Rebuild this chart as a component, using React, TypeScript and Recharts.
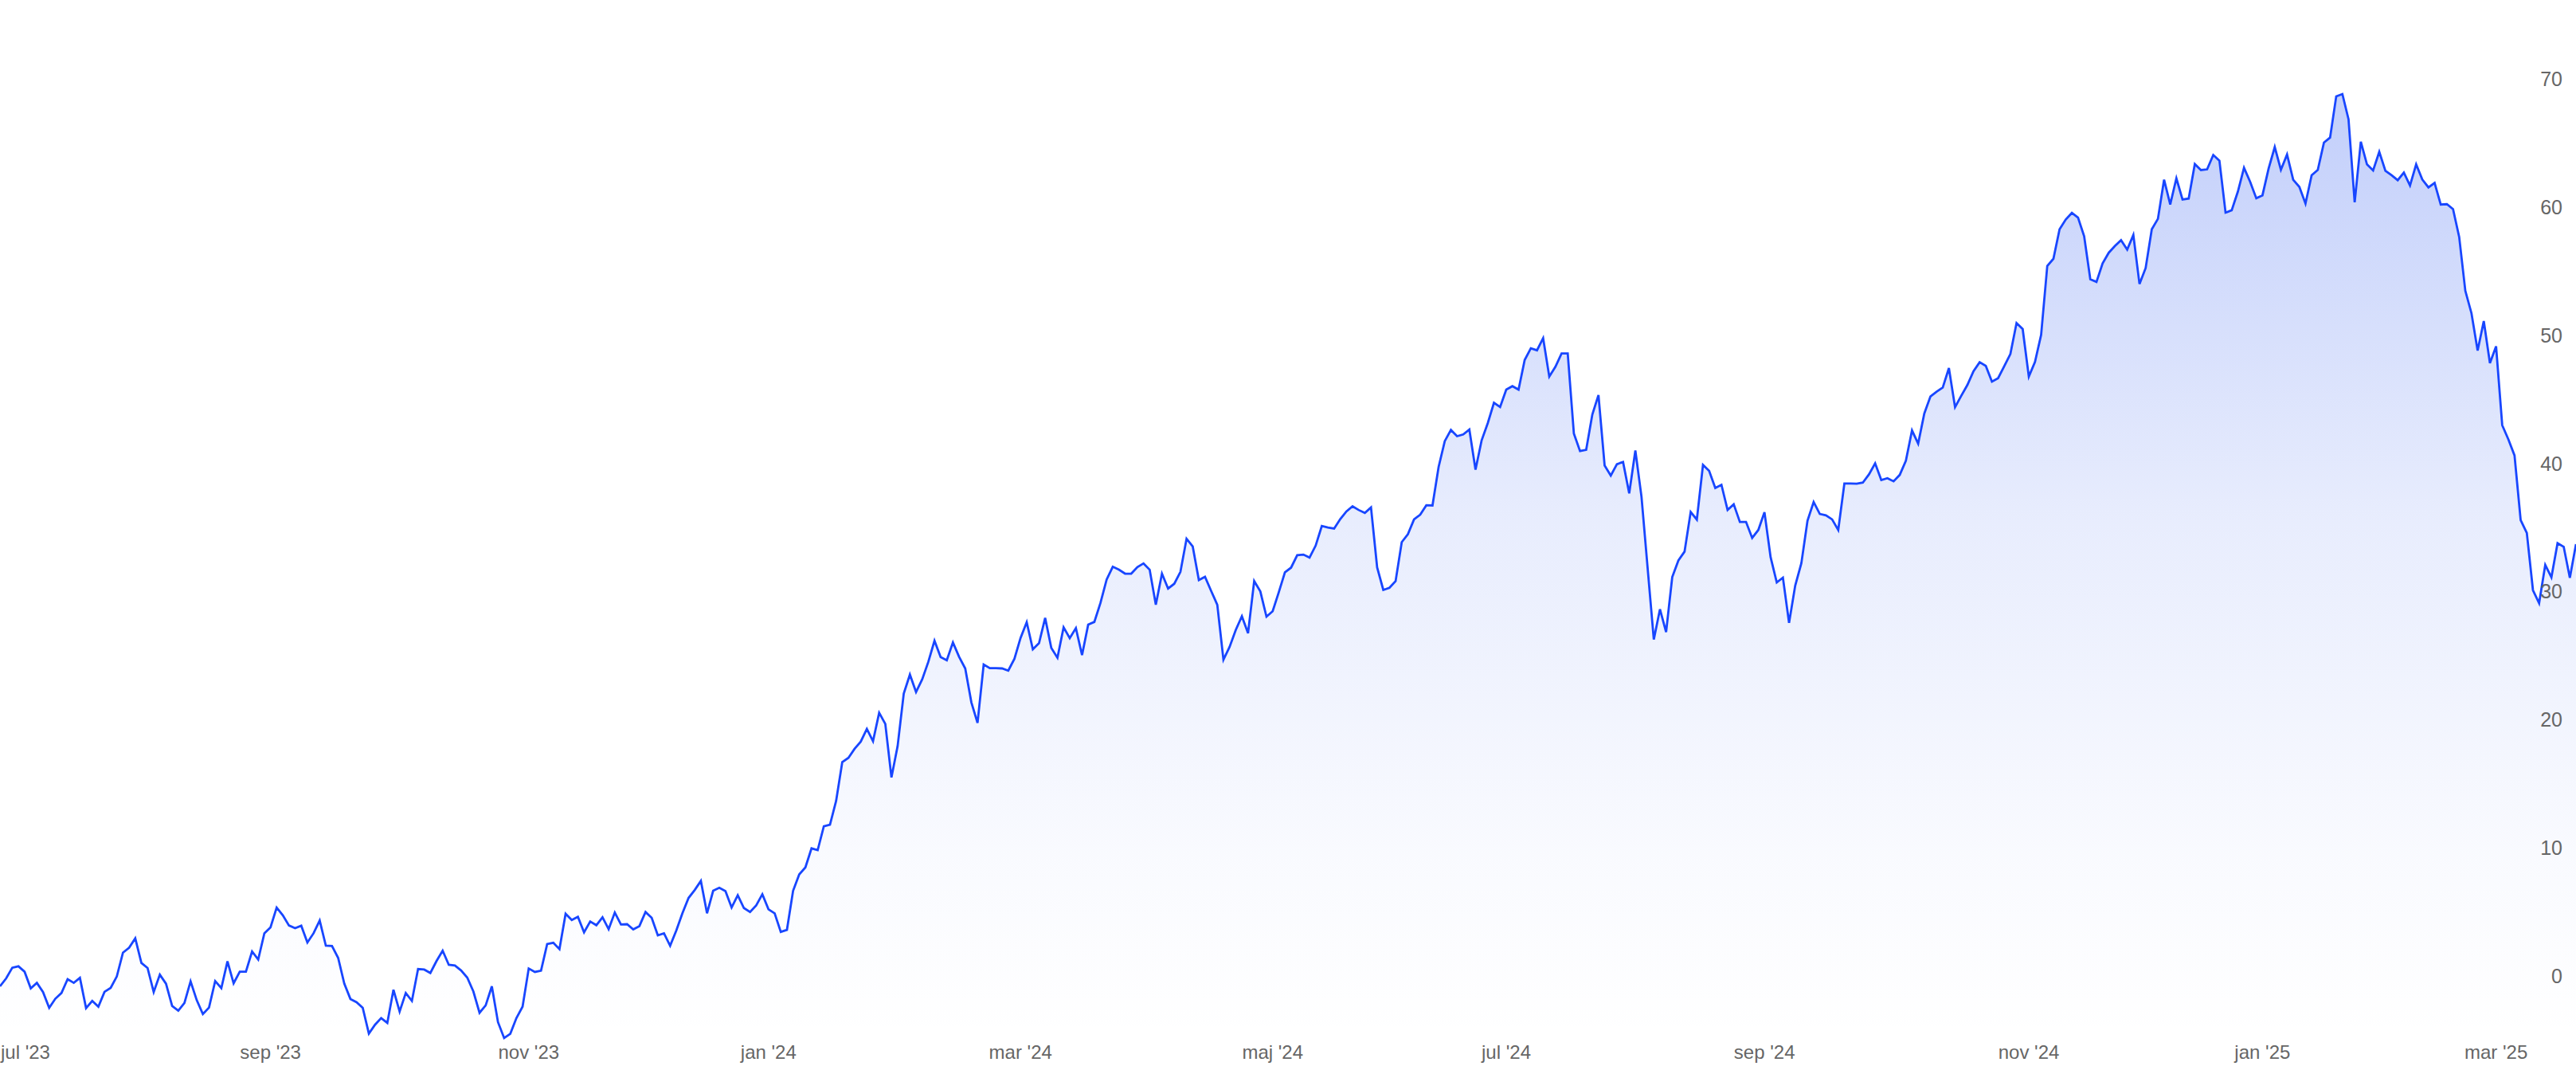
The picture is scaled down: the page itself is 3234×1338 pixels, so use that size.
import React from "react";
import { AreaChart, Area, XAxis, YAxis } from "recharts";

// daily return in % (one point per trading day)
const returns: number[] = [
  -0.83, -0.21, 0.62, 0.73, 0.31, -0.99, -0.56, -1.28, -2.51, -1.8,
  -1.35, -0.27, -0.56, -0.17, -2.53, -1.97, -2.42, -1.26, -0.95, -0.06,
  1.8, 2.18, 2.92, 0.99, 0.6, -1.28, 0.08, -0.62, -2.36, -2.73,
  -2.13, -0.44, -1.91, -3.0, -2.49, -0.42, -0.97, 1.12, -0.6, 0.31,
  0.31, 1.89, 1.26, 3.31, 3.77, 5.32, 4.72, 3.92, 3.71, 3.9,
  2.59, 3.31, 4.31, 2.34, 2.32, 1.39, -0.62, -1.82, -2.07, -2.51,
  -4.52, -3.83, -3.31, -3.69, -1.1, -2.8, -1.35, -1.97, 0.52, 0.48,
  0.21, 1.14, 1.95, 0.85, 0.79, 0.41, -0.15, -1.24, -2.9, -2.32,
  -0.83, -3.63, -4.87, -4.54, -3.31, -2.42, 0.56, 0.29, 0.39, 2.47,
  2.57, 2.07, 4.83, 4.35, 4.6, 3.38, 4.23, 3.94, 4.56, 3.63,
  4.93, 4.0, 4.02, 3.61,
  3.87, 4.97, 4.52, 3.15, 3.31, 2.34, 3.52, 4.87, 6.07, 6.69,
  7.4, 4.87, 6.63, 6.86, 6.6, 5.32, 6.28, 5.28, 4.97, 5.49,
  6.36, 5.18, 4.87, 3.42, 3.58, 6.63, 7.91, 8.45, 9.94, 9.8,
  11.66, 11.79, 13.65, 16.68, 17.01, 17.71, 18.27, 19.27, 18.31, 20.53,
  19.66, 15.48, 17.92, 22.02, 23.51, 22.15, 23.14, 24.51, 26.15, 24.88,
  24.63, 26.02, 24.9, 23.99, 21.34, 19.74, 24.3, 24.01, 24.01, 23.99,
  23.82, 24.74, 26.37, 27.6, 25.48,
  25.96, 27.93, 25.59, 24.82, 27.2, 26.35, 27.14, 25.03, 27.41, 27.62,
  29.11, 30.93, 31.93, 31.7, 31.39, 31.39, 31.9, 32.19, 31.7, 28.96,
  31.39, 30.23, 30.6, 31.53, 34.12, 33.52, 30.89, 31.14, 30.04, 28.96,
  24.67, 25.67, 26.99, 28.07, 26.74, 30.81, 30.0, 28.03, 28.45, 29.94,
  31.49, 31.86, 32.83, 32.88, 32.65, 33.58, 35.11, 34.99, 34.91, 35.65,
  36.25, 36.65, 36.36, 36.13, 36.56, 31.88, 30.12, 30.29, 30.81, 33.85,
  34.47, 35.63, 35.99, 36.73, 36.71, 39.73,
  41.74, 42.61, 42.12, 42.26, 42.64, 39.51, 41.81, 43.15, 44.73, 44.4,
  45.76, 46.03, 45.76, 48.08, 48.99, 48.83, 49.78, 46.78, 47.55, 48.58,
  48.58, 42.32, 40.96, 41.06, 43.82, 45.33, 39.84, 39.05, 39.94, 40.11,
  37.66, 41.0, 37.39, 31.8, 26.25, 28.61, 26.83, 31.12, 32.42, 33.11,
  36.21, 35.61, 39.88, 39.42, 38.08, 38.33, 36.36, 36.81, 35.43, 35.43,
  34.18, 34.8, 36.19, 32.67, 30.7, 31.08, 27.55, 30.45, 32.21, 35.53,
  36.98, 36.05, 35.94, 35.63, 34.8, 38.43,
  38.43, 38.41, 38.5, 39.14, 40.0, 38.7, 38.84, 38.6, 39.1, 40.21,
  42.57, 41.54, 43.9, 45.23, 45.6, 45.93, 47.44, 44.39, 45.27, 46.12,
  47.19, 47.9, 47.61, 46.38, 46.65, 47.59, 48.54, 50.96, 50.49, 46.78,
  47.92, 50.03,
  55.42, 55.98, 58.28, 59.04, 59.56, 59.19, 57.74, 54.38, 54.17, 55.62,
  56.45, 56.97, 57.43, 56.7, 57.84, 54.01, 55.25, 58.28, 59.1, 62.15,
  60.22, 62.26, 60.6, 60.68, 63.37, 62.9, 62.96, 64.08, 63.64, 59.58,
  59.77, 61.22, 63.08, 61.98, 60.7, 60.93, 63.02, 64.7, 62.92, 64.12,
  62.15, 61.59, 60.29, 62.5, 62.92, 65.05, 65.44, 68.66, 68.84, 66.87,
  60.39, 65.11, 63.35, 62.87, 64.33, 62.85, 62.5, 62.11, 62.71, 61.7,
  63.35, 62.17, 61.55, 61.9,
  60.21, 60.24, 59.85, 57.68, 53.47, 51.72, 48.81, 51.11, 47.83, 49.14,
  42.98, 41.87, 40.62, 35.57, 34.57,
  30.1, 29.09, 32.07, 31.11, 33.77, 33.49, 31.06, 33.7,
];

// index of the trading day under each month label
const monthTickIndex = [0, 44, 86, 125, 166, 207, 245, 287, 330, 368, 406];
const monthTickLabels = [
  "jul '23", "sep '23", "nov '23", "jan '24", "mar '24", "maj '24",
  "jul '24", "sep '24", "nov '24", "jan '25", "mar '25",
];
const yTicks = [0, 10, 20, 30, 40, 50, 60, 70];

const data = returns.map((v, i) => ({ i, v }));

const W = 3234;
const H = 1338;
const FONT = "'Liberation Sans', Arial, sans-serif";
const LABEL = "#666";

const XTick = (props: any) => {
  const { x, payload } = props;
  const idx = monthTickIndex.indexOf(payload.value);
  const first = idx === 0;
  return (
    <text
      x={first ? 1 : x}
      y={1320}
      textAnchor={first ? "start" : "middle"}
      dominantBaseline="central"
      fill={LABEL}
      fontSize={24}
      fontFamily={FONT}
    >
      {monthTickLabels[idx] ?? ""}
    </text>
  );
};

const YTick = (props: any) => (
  <text
    x={W - 17}
    y={props.y}
    textAnchor="end"
    dominantBaseline="central"
    fill={LABEL}
    fontSize={25}
    fontFamily={FONT}
  >
    {props.payload.value}
  </text>
);

export default function App() {
  return (
    <div style={{ position: "absolute", left: 0, top: 0, width: W, height: H, background: "#fff" }}>
      <AreaChart width={W} height={H} data={data} margin={{ top: 19, right: 0, bottom: 0, left: 0 }}>
        <defs>
          <linearGradient id="fillGrad" x1="0" y1="0" x2="0" y2="1">
            <stop offset="0%" stopColor="#1d4cee" stopOpacity={0.45} />
            <stop offset="45%" stopColor="#1d4cee" stopOpacity={0.17} />
            <stop offset="80%" stopColor="#1d4cee" stopOpacity={0.045} />
            <stop offset="100%" stopColor="#1d4cee" stopOpacity={0} />
          </linearGradient>
        </defs>
        <XAxis
          dataKey="i"
          type="number"
          domain={[0, returns.length - 1]}
          ticks={monthTickIndex}
          interval={0}
          height={33}
          axisLine={false}
          tickLine={false}
          tick={<XTick />}
        />
        <YAxis
          orientation="right"
          mirror
          width={60}
          domain={[-5, 75]}
          ticks={yTicks}
          interval={0}
          axisLine={false}
          tickLine={false}
          tick={<YTick />}
        />
        <Area
          type="linear"
          dataKey="v"
          stroke="#1846ff"
          strokeWidth={2.8}
          fill="url(#fillGrad)"
          baseValue="dataMin"
          dot={false}
          activeDot={false}
          isAnimationActive={false}
        />
      </AreaChart>
    </div>
  );
}
